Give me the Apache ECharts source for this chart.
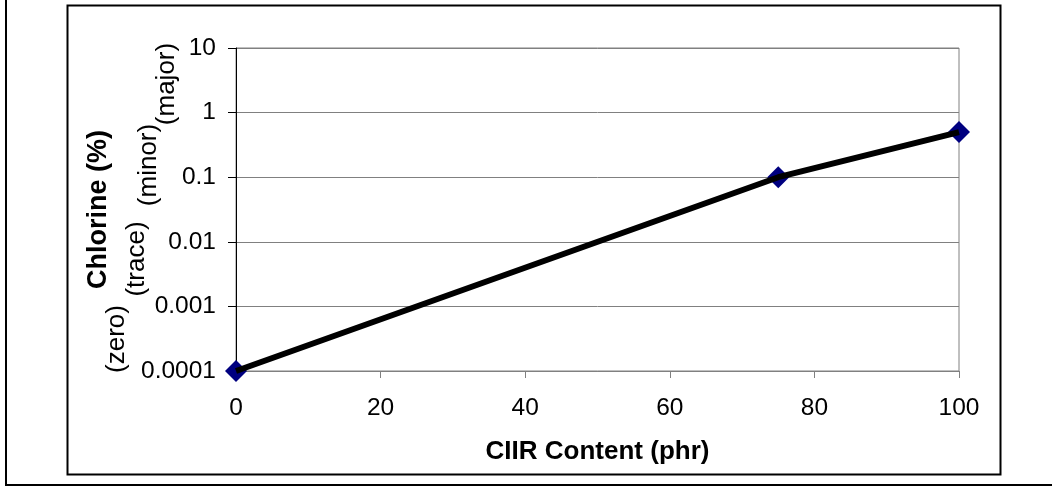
<!DOCTYPE html>
<html>
<head>
<meta charset="utf-8">
<script src="https://cdn.jsdelivr.net/npm/echarts@6/dist/echarts.min.js"></script>
<style>
html,body{margin:0;padding:0;background:#fff;}
#chart{width:1052px;height:487px;}
</style>
</head>
<body>
<div id="chart"></div>
<script>
// Data
const xValues = [0, 75, 100];
const chlorineValues = [0.0001, 0.1, 0.5];
const yTickLabels = ['0.0001', '0.001', '0.01', '0.1', '1', '10'];
const xTickLabels = ['0', '20', '40', '60', '80', '100'];
const levelLabels = ['(major)', '(minor)', '(trace)', '(zero)'];
const xTitle = 'CIIR Content (phr)';
const yTitle = 'Chlorine (%)';

const FONT = '"Liberation Sans", Arial, sans-serif';
const points = xValues.map((x, i) => [x, chlorineValues[i]]);

const chart = echarts.init(document.getElementById('chart'));

// positions for level annotations (centers)
const levelPos = [[167, 84], [149, 165], [137, 259], [117, 339]];

const option = {
  animation: false,
  backgroundColor: '#fff',
  grid: {
    left: 236, right: 93, top: 48, bottom: 116,
    show: true, borderColor: '#808080', borderWidth: 1
  },
  xAxis: {
    type: 'value', min: 0, max: 100, interval: 20,
    name: xTitle, nameLocation: 'middle', nameGap: 68,
    nameTextStyle: { fontFamily: FONT, fontWeight: 'bold', fontSize: 26, color: '#000' },
    axisLine: { show: true, onZero: false, lineStyle: { color: '#808080', width: 1 } },
    axisTick: { show: true, length: 7, lineStyle: { color: '#808080' } },
    axisLabel: {
      fontFamily: FONT, fontSize: 24.5, color: '#000', margin: 25,
      formatter: v => xTickLabels[Math.round(v / 20)]
    },
    splitLine: { show: false }
  },
  yAxis: {
    type: 'log', logBase: 10, min: 0.0001, max: 10,
    name: yTitle, nameLocation: 'middle', nameGap: 124, nameRotate: 90,
    nameTextStyle: { fontFamily: FONT, fontWeight: 'bold', fontSize: 27, color: '#000' },
    axisLine: { show: true, lineStyle: { color: '#000', width: 1 } },
    axisTick: { show: true, length: 8, lineStyle: { color: '#000' } },
    axisLabel: {
      fontFamily: FONT, fontSize: 24.5, color: '#000', margin: 20,
      formatter: v => yTickLabels[Math.round(Math.log10(v)) + 4]
    },
    splitLine: { show: true, lineStyle: { color: '#808080', width: 1 } },
    minorTick: { show: false }
  },
  series: [
    {
      type: 'scatter', data: points, symbol: 'diamond', symbolSize: 22,
      itemStyle: { color: '#000080', opacity: 1 }, z: 2
    },
    {
      type: 'line', data: points, showSymbol: false, symbol: 'none',
      lineStyle: { color: '#000', width: 6 }, z: 3
    }
  ],
  graphic: [
    { type: 'rect', shape: { x: 67.5, y: 5.5, width: 933, height: 469 },
      style: { fill: 'none', stroke: '#000', lineWidth: 2 }, silent: true, z: 10 },
    { type: 'rect', shape: { x: 6, y: -20, width: 1100, height: 505 },
      style: { fill: 'none', stroke: '#000', lineWidth: 2 }, silent: true, z: 10 }
  ].concat(levelLabels.map((t, i) => ({
    type: 'text', x: levelPos[i][0], y: levelPos[i][1], rotation: Math.PI / 2,
    style: { text: t, fontFamily: FONT, fontSize: 26, fill: '#000', align: 'center', verticalAlign: 'middle' },
    silent: true, z: 10
  })))
};
chart.setOption(option);
</script>
</body>
</html>
